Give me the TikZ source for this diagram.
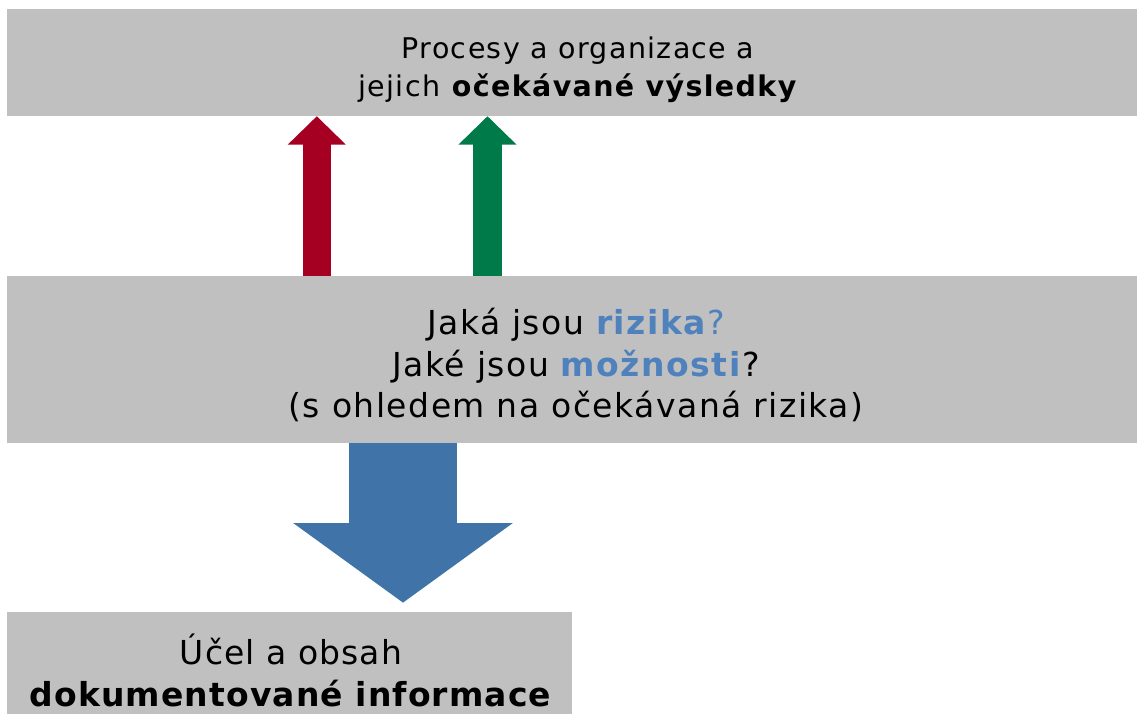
\documentclass[tikz,border=0pt]{standalone}
\usepackage{fontspec}
\setmainfont{DejaVu Sans}
\newfontfamily\topfont{DejaVu Sans}[LetterSpace=4.8]
\newfontfamily\midfont{DejaVu Sans}[LetterSpace=4.5]
\newfontfamily\botfont{DejaVu Sans}[LetterSpace=3.3]
\usetikzlibrary{arrows.meta}
\definecolor{boxgray}{HTML}{C0C0C0}
\definecolor{redc}{HTML}{A50021}
\definecolor{greenc}{HTML}{007A48}
\definecolor{bluec}{HTML}{4074A8}
\definecolor{txtblue}{HTML}{4F81BD}
\tikzset{
  panel/.style={fill=boxgray, draw=none, inner sep=0pt},
  paneltext/.style={inner sep=0pt, align=center},
  bigarrow/.style={draw=#1, -{Triangle[length=28.5pt, width=56.5pt]}, line width=28.5pt},
}
\begin{document}
\begin{tikzpicture}[x=1pt, y=-1pt]
\useasboundingbox (0,0) rectangle (1137,713);
\node[panel, minimum width=1130pt, minimum height=107pt] (top) at (572,62.5) {};
\node[panel, minimum width=1130pt, minimum height=167pt] (mid) at (572,359.5) {};
\node[panel, minimum width=565pt, minimum height=116pt] (bot) at (289.5,670) {};
\node[paneltext, font=\topfont\fontsize{28.5}{38.5}\selectfont] (toptxt) at (578,69.5)
  {Procesy a organizace a\\jejich \textbf{očekávané výsledky}};
\node[paneltext, font=\midfont\fontsize{33}{41.5}\selectfont] (midtxt) at (576,365)
  {Jaká jsou \textcolor{txtblue}{\textbf{rizika}?}\\Jaké jsou \textcolor{txtblue}{\textbf{možnosti}}?\\(s ohledem na očekávaná rizika)};
\node[paneltext, font=\botfont\fontsize{33}{42}\selectfont] (bottxt) at (291,670)
  {Účel a obsah\\\textbf{dokumentované informace}};
\draw[bigarrow=redc] (316.8,0 |- mid.north) -- (316.8,0 |- top.south);
\draw[bigarrow=greenc] (487.5,0 |- mid.north) -- (487.5,0 |- top.south);
\draw[draw=bluec, line width=107.7pt, -{Triangle[length=79.7pt, width=215.7pt]}]
  (403,0 |- mid.south) -- (403,602.7);
\end{tikzpicture}
\end{document}
